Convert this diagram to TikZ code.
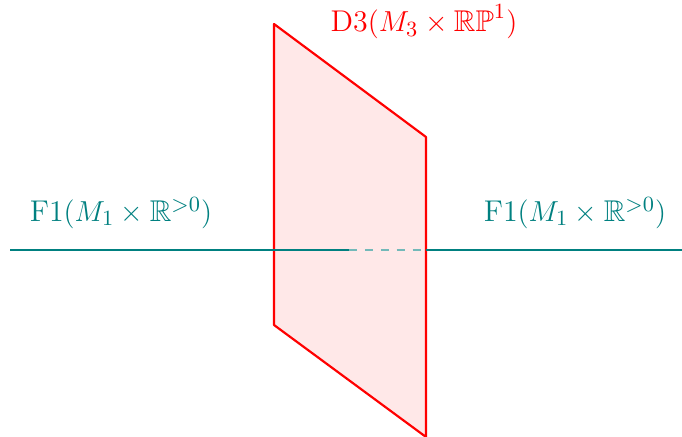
\documentclass[tikz,border=0pt]{standalone}
\usepackage{amssymb}
\begin{document}
\begin{tikzpicture}[x=0.415pt,y=-0.415pt,
  lbl/.style={inner sep=0pt,font=\fontsize{12.45}{14}\selectfont},
  flux/.style={teal,line width=0.9pt},
  plane/.style={red,line width=0.9pt,fill=red!9,line join=round}]
\useasboundingbox (0,0) rectangle (682,437);
\coordinate (p1) at (274,24);
\coordinate (p2) at (426,137);
\coordinate (p3) at (426,437);
\coordinate (p4) at (274,325);
\coordinate (a) at (10,250);
\coordinate (b) at (349,250);
\coordinate (c) at (426,250);
\coordinate (d) at (682,250);
\filldraw[plane] (p1) -- (p2) -- (p3) -- (p4) -- cycle;
\draw[flux] (a) -- (b);
\draw[flux,teal!55,dash pattern=on 3.3pt off 3.3pt] (b) -- (c);
\draw[flux] (c) -- (d);
\node[lbl,teal] (fl) at (121,213) {F1$(M_1\times\mathbb{R}^{>0})$};
\node[lbl,teal] (fr) at (575,213) {F1$(M_1\times\mathbb{R}^{>0})$};
\node[lbl,red] (d3) at (424,22) {D3$(M_3\times\mathbb{RP}^1)$};
\end{tikzpicture}
\end{document}
